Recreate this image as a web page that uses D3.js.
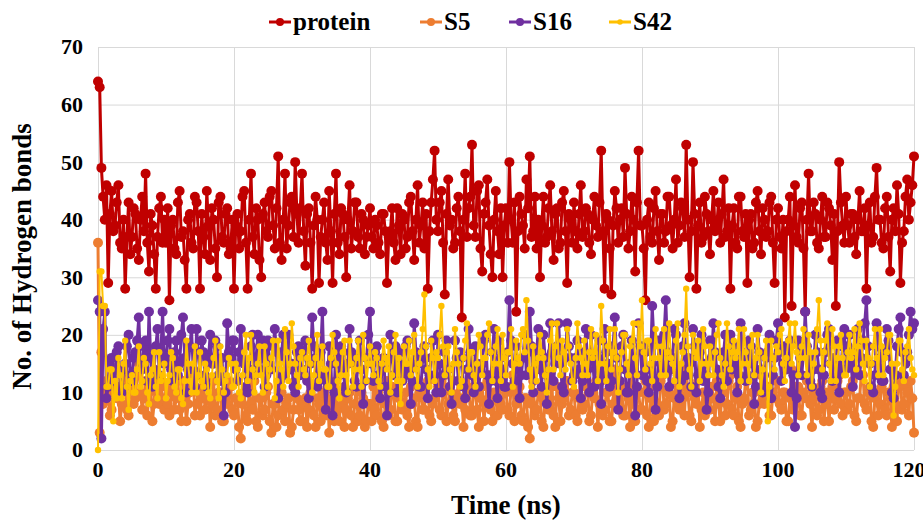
<!DOCTYPE html>
<html>
<head>
<meta charset="utf-8">
<script src="https://cdn.jsdelivr.net/npm/d3@7"></script>
<style>
  body { margin: 0; background: #fff; overflow: hidden; }
</style>
</head>
<body>
<svg></svg>
<script>
// hydrogen bond counts, one frame every 0.25 ns from 0 to 120 ns
const timeStep = 0.25;
const seriesNames = ['protein', 'S5', 'S16', 'S42'];

const protein = [
  64, 63, 49, 44, 40, 46, 29, 41, 45, 38, 39, 43, 46, 36, 35, 40, 28, 37, 43, 34, 37, 42, 41, 35, 33, 40, 44, 38, 48, 36, 31, 41, 39, 34, 28, 37, 42, 44, 36, 40,
  36, 42, 26, 39, 40, 35, 34, 43, 45, 37, 38, 33, 28, 40, 41, 36, 35, 44, 43, 38, 28, 41, 37, 34, 45, 39, 33, 42, 40, 35, 30, 43, 44, 37, 36, 41, 42, 34, 35, 40,
  28, 39, 41, 35, 38, 44, 45, 36, 28, 40, 48, 37, 34, 42, 40, 33, 30, 41, 43, 38, 37, 44, 45, 39, 35, 42, 51, 36, 33, 40, 48, 35, 39, 43, 44, 37, 50, 41, 36, 42,
  48, 38, 32, 41, 42, 36, 28, 39, 44, 40, 29, 37, 40, 43, 36, 33, 45, 38, 29, 41, 48, 36, 34, 42, 41, 37, 30, 40, 46, 35, 38, 43, 43, 37, 35, 41, 40, 34, 37, 39,
  42, 37, 35, 40, 39, 36, 34, 41, 41, 38, 29, 37, 38, 42, 36, 33, 42, 39, 34, 41, 40, 35, 37, 43, 44, 38, 33, 40, 46, 36, 39, 43, 35, 41, 28, 38, 43, 47, 52, 40,
  38, 43, 45, 36, 27, 41, 47, 39, 40, 35, 36, 42, 44, 38, 23, 40, 48, 37, 42, 44, 53, 39, 37, 45, 46, 35, 31, 41, 43, 47, 39, 34, 30, 40, 45, 38, 34, 42, 30, 39,
  42, 36, 50, 40, 36, 43, 24, 38, 44, 41, 39, 35, 47, 42, 51, 37, 38, 44, 35, 40, 30, 39, 44, 36, 37, 42, 46, 38, 33, 41, 42, 35, 36, 43, 45, 38, 29, 41, 40, 36,
  43, 38, 35, 41, 46, 37, 38, 42, 41, 36, 34, 40, 44, 39, 37, 43, 52, 38, 28, 41, 40, 35, 27, 39, 45, 42, 36, 40, 42, 37, 49, 41, 35, 38, 44, 40, 31, 43, 52, 39,
  39, 35, 26, 40, 43, 37, 36, 42, 45, 38, 33, 41, 41, 36, 38, 44, 44, 39, 35, 40, 47, 36, 39, 43, 42, 37, 53, 40, 30, 38, 50, 41, 28, 39, 43, 36, 37, 44, 41, 38,
  34, 40, 45, 38, 39, 43, 36, 41, 47, 37, 38, 42, 28, 39, 42, 36, 35, 44, 44, 38, 37, 41, 29, 40, 41, 35, 36, 43, 45, 38, 34, 42, 40, 37, 38, 43, 44, 36, 29, 40,
  42, 37, 35, 40, 23, 38, 40, 44, 25, 39, 46, 37, 36, 42, 43, 35, 24, 40, 48, 38, 38, 43, 41, 36, 35, 40, 44, 37, 37, 43, 42, 39, 33, 41, 25, 38, 50, 43, 39, 36,
  44, 39, 36, 41, 41, 37, 34, 40, 45, 38, 38, 42, 28, 39, 43, 36, 37, 44, 49, 40, 40, 36, 35, 42, 44, 37, 31, 40, 42, 38, 46, 41, 29, 36, 38, 44, 47, 40, 43, 46,
  51
];

const s5 = [
  36, 3, 17, 8, 9, 12, 12, 6, 7, 10, 14, 9, 10, 5, 8, 11, 13, 7, 6, 12, 11, 8, 9, 13, 15, 10, 7, 9, 12, 6, 10, 11, 5, 8, 13, 10, 8, 12, 9, 7,
  11, 8, 6, 10, 14, 7, 9, 12, 7, 5, 12, 9, 5, 8, 10, 11, 13, 6, 8, 10, 6, 9, 11, 7, 9, 12, 4, 8, 12, 6, 7, 10, 10, 5, 5, 9, 8, 12, 11, 7,
  6, 9, 9, 4, 2, 8, 10, 6, 5, 11, 8, 7, 12, 5, 4, 9, 9, 6, 7, 10, 11, 5, 3, 8, 8, 4, 6, 10, 10, 7, 5, 8, 9, 3, 4, 7, 12, 9, 7, 5,
  5, 8, 9, 4, 7, 10, 11, 6, 4, 9, 8, 5, 10, 7, 6, 11, 3, 8, 9, 5, 12, 7, 5, 10, 8, 4, 7, 9, 10, 6, 4, 8, 11, 5, 6, 10, 9, 4, 5, 8,
  8, 5, 11, 7, 6, 10, 9, 5, 4, 8, 12, 6, 7, 11, 10, 5, 5, 9, 13, 7, 8, 10, 6, 4, 11, 8, 9, 5, 4, 10, 10, 7, 7, 11, 12, 6, 5, 8, 9, 12,
  11, 7, 6, 10, 13, 5, 8, 11, 10, 6, 5, 9, 12, 8, 9, 4, 7, 10, 14, 6, 6, 11, 10, 7, 4, 9, 11, 5, 8, 12, 13, 7, 5, 10, 9, 6, 12, 8, 7, 11,
  10, 7, 6, 11, 13, 5, 8, 10, 11, 6, 5, 9, 9, 4, 2, 8, 12, 6, 7, 10, 10, 5, 4, 9, 13, 7, 8, 11, 6, 4, 11, 9, 5, 8, 9, 12, 12, 6, 7, 10,
  10, 6, 5, 9, 13, 7, 8, 11, 11, 5, 6, 10, 9, 12, 4, 8, 12, 6, 7, 10, 10, 5, 5, 8, 14, 9, 8, 11, 11, 6, 6, 10, 9, 4, 13, 8, 5, 11, 10, 7,
  7, 10, 12, 6, 4, 9, 9, 5, 11, 8, 6, 12, 13, 7, 8, 10, 10, 4, 5, 9, 12, 8, 7, 11, 9, 6, 14, 10, 6, 5, 11, 9, 8, 12, 4, 7, 10, 6, 13, 9,
  7, 11, 9, 5, 12, 8, 5, 10, 10, 6, 8, 12, 13, 7, 6, 9, 11, 5, 4, 8, 9, 12, 12, 6, 7, 10, 10, 4, 5, 8, 13, 9, 8, 11, 11, 6, 6, 10, 9, 12,
  12, 8, 7, 10, 10, 5, 5, 9, 14, 7, 8, 11, 11, 6, 6, 10, 9, 12, 13, 8, 4, 9, 10, 6, 7, 11, 12, 5, 8, 10, 5, 9, 11, 7, 9, 12, 13, 8, 6, 10,
  10, 7, 8, 11, 12, 6, 5, 9, 9, 13, 13, 8, 7, 10, 11, 5, 4, 9, 10, 6, 8, 11, 12, 7, 6, 10, 9, 4, 11, 8, 5, 12, 13, 7, 8, 11, 10, 6, 12, 9,
  3
];

const s16 = [
  26, 24, 2, 21, 24, 9, 11, 15, 16, 12, 13, 17, 18, 11, 10, 14, 15, 18, 20, 13, 12, 16, 17, 19, 23, 15, 14, 18, 19, 12, 24, 16, 11, 14, 18, 21, 13, 17, 24, 15,
  16, 19, 21, 14, 12, 17, 19, 13, 15, 20, 23, 16, 10, 14, 18, 21, 14, 11, 21, 17, 13, 19, 17, 12, 11, 16, 20, 15, 15, 19, 18, 13, 12, 16, 6, 10, 22, 17, 16, 19,
  19, 14, 12, 17, 21, 16, 15, 11, 10, 14, 18, 20, 13, 16, 20, 14, 16, 19, 11, 13, 19, 15, 14, 18, 21, 17, 9, 12, 17, 20, 13, 16, 20, 14, 15, 11, 10, 17, 18, 13,
  14, 17, 19, 12, 9, 15, 23, 18, 16, 11, 12, 17, 24, 13, 7, 12, 18, 15, 6, 10, 20, 16, 13, 18, 17, 11, 10, 15, 21, 17, 15, 12, 11, 16, 19, 14, 8, 12, 16, 20,
  24, 15, 12, 17, 18, 13, 9, 14, 16, 11, 6, 10, 20, 16, 13, 18, 10, 15, 17, 12, 14, 18, 19, 13, 8, 12, 22, 17, 15, 11, 11, 16, 18, 14, 9, 13, 16, 19, 13, 10,
  20, 15, 10, 13, 17, 19, 14, 11, 8, 12, 19, 16, 12, 17, 16, 11, 9, 14, 21, 17, 13, 10, 18, 15, 11, 14, 15, 19, 20, 13, 8, 12, 17, 21, 12, 9, 19, 16, 14, 11,
  11, 17, 26, 19, 15, 12, 18, 14, 9, 13, 16, 20, 13, 17, 24, 18, 10, 14, 17, 21, 14, 11, 20, 16, 8, 13, 22, 17, 12, 15, 18, 22, 15, 11, 10, 16, 22, 18, 16, 12,
  13, 16, 19, 14, 9, 12, 17, 21, 14, 10, 20, 16, 11, 15, 16, 19, 8, 13, 21, 17, 15, 11, 12, 18, 23, 16, 7, 12, 18, 20, 14, 10, 10, 15, 19, 14, 6, 11, 22, 18,
  13, 18, 17, 12, 10, 14, 25, 19, 7, 11, 19, 15, 14, 20, 26, 17, 11, 14, 16, 21, 20, 13, 9, 12, 18, 22, 13, 16, 15, 11, 21, 18, 10, 13, 17, 20, 12, 15, 7, 10,
  19, 16, 22, 17, 14, 11, 9, 13, 17, 20, 12, 16, 20, 14, 15, 18, 10, 13, 22, 17, 16, 12, 13, 19, 18, 15, 8, 11, 21, 17, 14, 10, 11, 16, 17, 20, 9, 13, 16, 19,
  22, 17, 12, 15, 18, 14, 15, 19, 10, 13, 4, 9, 19, 16, 13, 17, 24, 18, 16, 12, 11, 14, 20, 17, 14, 10, 9, 13, 17, 20, 21, 15, 12, 16, 15, 19, 10, 14, 18, 21,
  14, 18, 20, 15, 11, 14, 17, 21, 13, 16, 19, 22, 26, 18, 15, 11, 10, 13, 22, 18, 16, 12, 12, 17, 21, 19, 14, 10, 9, 13, 18, 21, 23, 17, 13, 15, 17, 20, 24, 21,
  22
];

const s42 = [
  0, 31, 31, 25, 25, 11, 11, 14, 14, 5, 12, 9, 16, 13, 9, 15, 19, 11, 7, 12, 13, 10, 10, 14, 18, 11, 12, 16, 15, 10, 8, 13, 14, 17, 11, 9, 17, 12, 13, 15,
  9, 12, 13, 17, 16, 11, 10, 14, 14, 9, 8, 12, 19, 15, 12, 10, 15, 18, 10, 13, 17, 12, 11, 15, 14, 10, 9, 13, 16, 19, 12, 9, 18, 14, 10, 12, 13, 16, 15, 11,
  11, 15, 14, 10, 9, 13, 17, 20, 12, 16, 20, 14, 10, 13, 15, 18, 13, 10, 18, 15, 11, 14, 16, 19, 9, 12, 19, 15, 14, 11, 21, 17, 12, 15, 22, 18, 15, 13, 11, 16,
  17, 14, 13, 16, 19, 15, 10, 13, 16, 20, 12, 15, 18, 14, 14, 11, 11, 16, 20, 17, 15, 12, 9, 13, 17, 19, 13, 10, 19, 15, 11, 14, 16, 19, 14, 11, 20, 16, 12, 15,
  18, 15, 13, 17, 16, 12, 11, 15, 19, 16, 14, 18, 10, 13, 17, 20, 12, 16, 8, 12, 18, 15, 15, 19, 13, 17, 20, 14, 11, 15, 17, 21, 27, 18, 14, 11, 19, 16, 12, 17,
  16, 20, 25, 18, 13, 17, 18, 14, 10, 15, 21, 17, 15, 11, 12, 16, 19, 22, 14, 17, 17, 13, 11, 15, 20, 18, 13, 16, 16, 20, 22, 17, 12, 15, 18, 21, 15, 12, 20, 16,
  13, 17, 17, 21, 11, 15, 19, 16, 15, 20, 21, 17, 26, 19, 14, 11, 18, 15, 12, 16, 20, 17, 16, 13, 10, 14, 19, 22, 14, 18, 22, 16, 13, 19, 17, 14, 21, 18, 15, 12,
  11, 16, 22, 18, 16, 13, 19, 15, 13, 17, 21, 16, 17, 20, 12, 15, 25, 19, 15, 12, 18, 21, 14, 17, 21, 16, 10, 14, 17, 20, 20, 15, 13, 18, 19, 22, 16, 13, 22, 18,
  26, 17, 14, 19, 19, 15, 12, 16, 21, 18, 16, 13, 18, 21, 13, 17, 22, 16, 15, 12, 19, 22, 11, 15, 17, 20, 28, 18, 14, 11, 20, 17, 16, 19, 12, 15, 21, 18, 15, 13,
  18, 15, 13, 17, 20, 22, 16, 13, 11, 15, 22, 18, 14, 17, 19, 16, 17, 21, 12, 15, 21, 17, 15, 12, 18, 20, 13, 16, 20, 17, 10, 14, 16, 19, 5, 11, 19, 16, 14, 18,
  17, 20, 21, 15, 12, 16, 19, 22, 15, 18, 22, 17, 13, 16, 18, 21, 16, 13, 20, 17, 11, 15, 17, 21, 26, 19, 14, 17, 19, 22, 15, 12, 21, 18, 12, 16, 18, 20, 16, 13,
  13, 17, 20, 16, 17, 21, 14, 18, 22, 19, 15, 12, 19, 16, 11, 15, 18, 21, 16, 13, 21, 18, 13, 16, 17, 20, 20, 15, 6, 11, 15, 19, 19, 14, 12, 17, 18, 21, 16, 14,
  13
];

const xTicks = [0, 20, 40, 60, 80, 100, 120];
const yTicks = [0, 10, 20, 30, 40, 50, 60, 70];

const width = 923;
const height = 520;
const margin = {top: 47, right: 9, bottom: 70, left: 98};
const innerWidth = width - margin.left - margin.right;
const innerHeight = height - margin.top - margin.bottom;
const fontFamily = '"Liberation Serif", "Times New Roman", serif';

const colors = ['#c00000', '#ed7d31', '#7030a0', '#ffc000'];
const lineWidths = [3, 3, 3, 2];
const radii = [5, 5, 5, 3.2];
const allSeries = [protein, s5, s16, s42];

const svg = d3.select('svg')
  .attr('width', width)
  .attr('height', height)
  .style('display', 'block');

const xScale = d3.scaleLinear().domain([0, 120]).range([0, innerWidth]);
const yScale = d3.scaleLinear().domain([0, 70]).range([innerHeight, 0]);

const g = svg.append('g')
  .attr('transform', `translate(${margin.left}, ${margin.top})`);

// gridlines
g.append('g')
  .call(d3.axisLeft(yScale).tickValues(yTicks).tickSize(-innerWidth).tickFormat(''))
  .call(a => a.select('.domain').remove())
  .call(a => a.selectAll('text').remove())
  .selectAll('line').attr('stroke', '#d9d9d9');

g.append('g')
  .attr('transform', `translate(0, ${innerHeight})`)
  .call(d3.axisBottom(xScale).tickValues(xTicks).tickSize(-innerHeight).tickFormat(''))
  .call(a => a.select('.domain').remove())
  .call(a => a.selectAll('text').remove())
  .selectAll('line').attr('stroke', '#d9d9d9');

// tick labels
const label = sel => sel
  .attr('font-family', fontFamily)
  .attr('font-weight', 'bold')
  .attr('fill', '#000');

g.append('g')
  .selectAll('text')
  .data(yTicks)
  .join('text')
  .call(label)
  .attr('x', -15)
  .attr('y', d => yScale(d))
  .attr('dy', '0.34em')
  .attr('text-anchor', 'end')
  .attr('font-size', 22)
  .text(d => d);

g.append('g')
  .selectAll('text')
  .data(xTicks)
  .join('text')
  .call(label)
  .attr('x', d => xScale(d) - (d === 120 ? 5 : 0))
  .attr('y', innerHeight + 27)
  .attr('text-anchor', 'middle')
  .attr('font-size', 22)
  .text(d => d);

// series
const line = d3.line()
  .x((d, i) => xScale(i * timeStep))
  .y(d => yScale(d));

allSeries.forEach((values, k) => {
  const sg = g.append('g');
  sg.append('path')
    .attr('d', line(values))
    .attr('fill', 'none')
    .attr('stroke', colors[k])
    .attr('stroke-width', lineWidths[k])
    .attr('stroke-linejoin', 'round');
  sg.selectAll('circle')
    .data(values)
    .join('circle')
    .attr('cx', (d, i) => xScale(i * timeStep))
    .attr('cy', d => yScale(d))
    .attr('r', radii[k])
    .attr('fill', colors[k]);
});

// axis titles
svg.append('text')
  .call(label)
  .attr('x', margin.left + innerWidth / 2)
  .attr('y', 514)
  .attr('text-anchor', 'middle')
  .attr('font-size', 27)
  .text('Time (ns)');

svg.append('text')
  .call(label)
  .attr('transform', `translate(31, ${margin.top + innerHeight / 2 + 8}) rotate(-90)`)
  .attr('text-anchor', 'middle')
  .attr('font-size', 27)
  .text('No. of Hydrogen bonds');

// legend
const legendX = [269, 420, 509, 609];
const legend = svg.append('g').attr('transform', 'translate(0, 22)');
seriesNames.forEach((name, k) => {
  const item = legend.append('g').attr('transform', `translate(${legendX[k]}, 0)`);
  item.append('line')
    .attr('x1', 0).attr('x2', 22)
    .attr('stroke', colors[k])
    .attr('stroke-width', 3);
  item.append('circle')
    .attr('cx', 11)
    .attr('r', k === 3 ? 2.8 : 4)
    .attr('fill', colors[k]);
  item.append('text')
    .call(label)
    .attr('x', 24)
    .attr('y', 8)
    .attr('font-size', 25)
    .text(name);
});
</script>
</body>
</html>
